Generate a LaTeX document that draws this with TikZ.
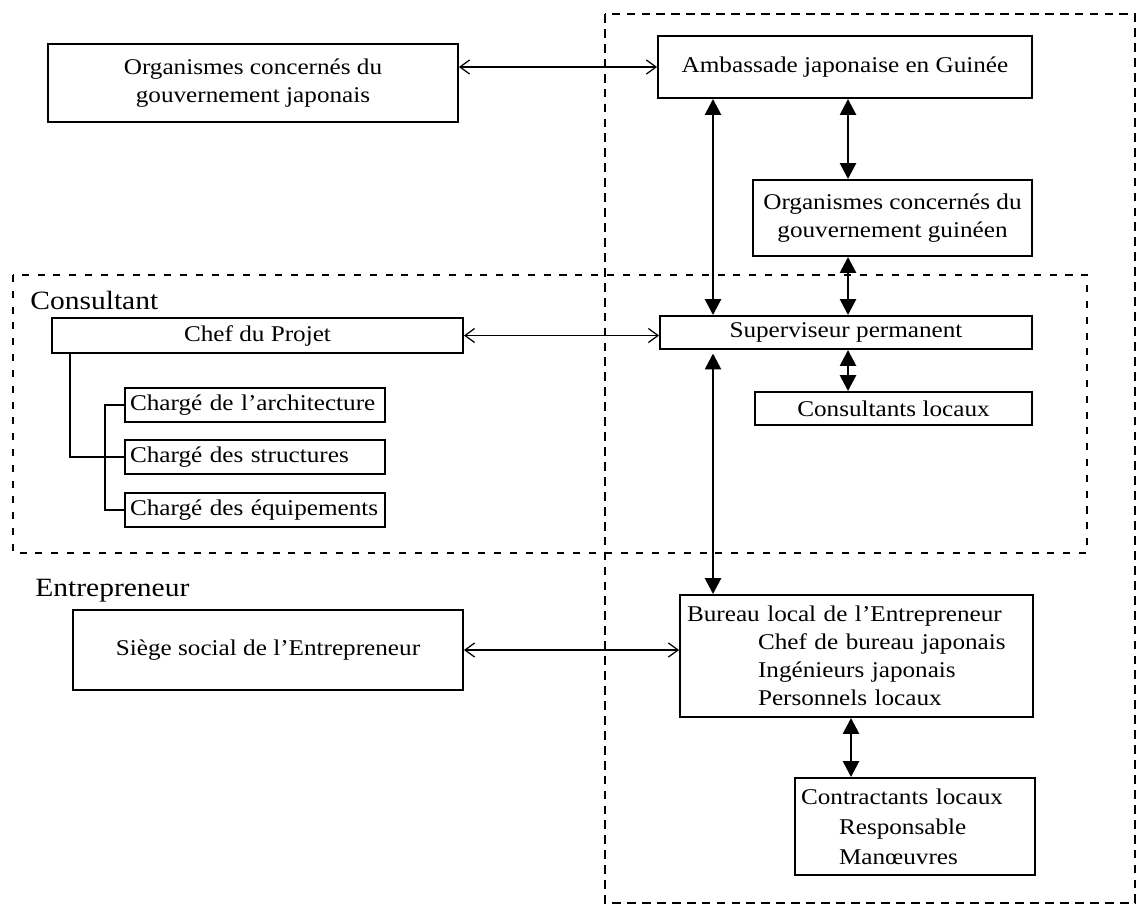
\documentclass[tikz,border=0pt]{standalone}
\usepackage{fontspec}
\setmainfont{Liberation Serif}[FakeStretch=1.12]
\usetikzlibrary{arrows.meta}
\newcommand\diagfont{\fontsize{12.8}{16}\selectfont}
\newcommand\groupfont{\fontsize{15}{18}\selectfont}
\tikzset{
	cadre/.style={draw,line width=1.1pt,inner sep=0pt,font=\diagfont,align=center},
	cadreg/.style={cadre,align=left,inner xsep=0.1cm},
	fleche/.style={line width=0.7pt,{Straight Barb[length=5.5pt,width=8pt]}-{Straight Barb[length=5.5pt,width=8pt]}},
	liaison/.style={line width=1.5pt,{Triangle[length=9pt,width=9pt]}-{Triangle[length=9pt,width=9pt]}},
	zone/.style={line width=0.6pt,dash pattern=on 4pt off 5pt},
	zonegrande/.style={line width=1.5pt,dash pattern=on 5pt off 3.5pt},
}
\begin{document}
\begin{tikzpicture}[x=0.02cm,y=-0.02cm]
	\useasboundingbox (0,0) rectangle (1138,916);
	%Zones
	\draw[zonegrande] (605,14) rectangle (1135,903);
	\draw[zone] (13,275) rectangle (1087,553);
	\node[anchor=west,inner sep=0pt,font=\groupfont] (lblcons) at (30,300) {Consultant};
	\node[anchor=west,inner sep=0pt,font=\groupfont] (lblentr) at (35,591) {Entrepreneur};
	%Cadres gouvernement
	\node[cadre,minimum width=8.2cm,minimum height=1.56cm] (orgjap) at (253,83) {Organismes concernés du\\gouvernement japonais};
	\node[cadre,minimum width=7.48cm,minimum height=1.24cm] (ambass) at (845,67) {Ambassade japonaise en Guinée};
	\node[cadre,minimum width=5.58cm,minimum height=1.52cm] (orgguin) at (892.5,218) {Organismes concernés du\\gouvernement guinéen};
	%Cadres consultant
	\node[cadre,minimum width=8.22cm,minimum height=0.7cm] (chef) at (257.5,335.5) {Chef du Projet};
	\node[cadre,minimum width=7.44cm,minimum height=0.66cm] (superv) at (846,332.5) {Superviseur permanent};
	\node[cadre,minimum width=5.54cm,minimum height=0.66cm] (consloc) at (893.5,408.5) {Consultants locaux};
	\node[cadreg,text width=5cm,minimum height=0.68cm] (archi) at (255,405) {Chargé de l'architecture};
	\node[cadreg,text width=5cm,minimum height=0.68cm] (struct) at (255,457) {Chargé des structures};
	\node[cadreg,text width=5cm,minimum height=0.68cm] (equip) at (255,510) {Chargé des équipements};
	%Cadres entrepreneur
	\node[cadre,minimum width=7.8cm,minimum height=1.6cm] (siege) at (268,650) {Siège social de l'Entrepreneur};
	\node[cadreg,inner xsep=0.14cm,text width=6.78cm,minimum height=2.44cm] (bureau) at (856.5,656) {Bureau local de l'Entrepreneur\\
		\hspace*{1.42cm}Chef de bureau japonais\\
		\hspace*{1.42cm}Ingénieurs japonais\\
		\hspace*{1.42cm}Personnels locaux};
	\node[cadreg,inner xsep=0.12cm,text width=4.56cm,minimum height=1.94cm] (contr) at (915,826.5) {Contractants locaux\\[1pt]
		\hspace*{0.76cm}Responsable\\[1pt]
		\hspace*{0.76cm}Manœuvres};
	%Colonnes des fleches
	\coordinate (colA) at (713,0);
	\coordinate (colB) at (848,0);
	\coordinate (colC) at (851,0);
	\coordinate (tronc) at (70,0);
	\coordinate (branche) at (105,0);
	%Fleches horizontales
	\draw[fleche] (orgjap.east |- ambass.west) -- (ambass.west);
	\draw[fleche] (chef.east) -- (superv.west |- chef.east);
	\draw[fleche] (siege.east) -- (bureau.west |- siege.east);
	%Fleches verticales
	\draw[liaison] (ambass.south -| colA) -- (superv.north -| colA);
	\draw[liaison] (ambass.south -| colB) -- (orgguin.north -| colB);
	\draw[liaison] (orgguin.south -| colB) -- (superv.north -| colB);
	\draw[liaison] (superv.south -| colB) -- (consloc.north -| colB);
	\draw[liaison,shorten <=2pt] (superv.south -| colA) -- (bureau.north -| colA);
	\draw[liaison] (bureau.south -| colC) -- (contr.north -| colC);
	%Arbre du consultant
	\draw[line width=1.2pt] (chef.south -| tronc) |- (struct.west);
	\draw[line width=1.2pt] (archi.west) -- (archi.west -| branche) -- (equip.west -| branche) -- (equip.west);
\end{tikzpicture}
\end{document}
